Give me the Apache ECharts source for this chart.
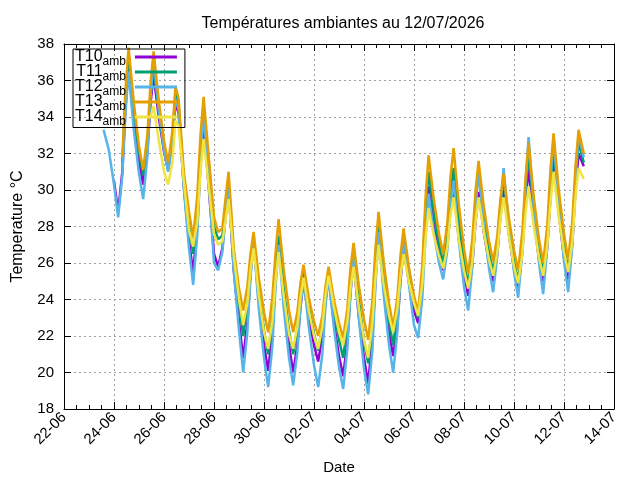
<!DOCTYPE html>
<html>
<head>
<meta charset="utf-8">
<title>Températures ambiantes</title>
<script src="https://cdn.jsdelivr.net/npm/echarts@6/dist/echarts.min.js"></script>
<style>
  html, body { margin: 0; padding: 0; background: #fff; }
  #chart { width: 640px; height: 480px; }
</style>
</head>
<body>
<div id="chart"></div>
<script>
// one row per day, samples at these hours (UTC)
const days = ['2026-06-23','2026-06-24','2026-06-25','2026-06-26','2026-06-27',
  '2026-06-28','2026-06-29','2026-06-30','2026-07-01','2026-07-02','2026-07-03',
  '2026-07-04','2026-07-05','2026-07-06','2026-07-07','2026-07-08','2026-07-09',
  '2026-07-10','2026-07-11','2026-07-12'];
const hours = [0, 4, 8, 11, 14, 19];

const seriesNames = ['T10', 'T11', 'T12', 'T13', 'T14'];
const seriesColors = ['#9400d3', '#009e73', '#56b4e9', '#e69f00', '#f0e442'];

const t10 = [
  null, null, null, null, null, null,
  30.5, 28.8, 31.0, 34.5, 36.8, 33.9,
  31.6, 30.3, 32.1, 34.7, 36.3, 34.0,
  32.1, 31.1, 32.6, 34.8, 34.2, 30.2,
  27.2, 25.5, 28.0, 31.5, 33.6, 30.1,
  26.5, 25.8, 26.8, 28.5, 30.0, 25.6,
  22.8, 20.8, 22.7, 25.4, 27.1, 24.0,
  21.5, 20.1, 22.2, 25.0, 27.3, 24.0,
  21.5, 20.0, 21.5, 23.6, 25.0, 23.0,
  21.5, 20.6, 22.0, 23.9, 25.2, 22.8,
  20.9, 19.8, 21.7, 24.4, 26.1, 23.1,
  20.8, 19.4, 21.9, 25.1, 27.6, 24.6,
  22.2, 20.9, 22.6, 25.0, 26.8, 25.0,
  23.4, 22.7, 24.9, 28.0, 30.2, 28.1,
  26.5, 25.6, 27.0, 29.0, 30.1, 27.4,
  25.4, 24.2, 25.9, 28.2, 29.9, 27.7,
  26.0, 25.0, 26.5, 28.6, 30.0, 27.6,
  25.7, 24.6, 26.6, 29.3, 31.2, 28.4,
  26.2, 25.0, 26.9, 29.6, 31.7, 28.7,
  26.3, 25.0, 27.1, 30.0, 32.0, 31.3
];
const t11 = [
  null, null, null, null, null, null,
  null, null, 31.5, 35.0, 37.2, 34.3,
  32.1, 30.8, 32.6, 35.1, 36.8, 34.3,
  32.3, 31.2, 32.8, 35.3, 34.7, 30.6,
  28.1, 26.5, 29.0, 32.4, 34.6, 31.3,
  28.0, 27.3, 27.5, 29.0, 30.5, 26.2,
  23.8, 22.0, 23.6, 25.9, 27.3, 24.5,
  22.3, 21.0, 23.0, 25.6, 27.5, 24.6,
  22.3, 21.0, 22.4, 24.2, 25.5, 23.6,
  22.1, 21.2, 22.5, 24.2, 25.5, 23.4,
  21.8, 20.8, 22.6, 25.1, 26.7, 24.0,
  21.7, 20.5, 22.7, 25.6, 28.0, 25.1,
  22.8, 21.5, 23.3, 25.8, 27.5, 25.5,
  23.9, 23.0, 25.4, 28.8, 31.0, 28.8,
  27.0, 26.0, 27.6, 29.8, 31.2, 28.3,
  26.1, 24.8, 26.7, 29.3, 31.1, 28.6,
  26.6, 25.5, 27.1, 29.2, 30.7, 28.1,
  26.1, 25.0, 27.1, 30.0, 31.9, 29.0,
  26.8, 25.5, 27.5, 30.3, 32.3, 29.3,
  27.0, 25.6, 27.7, 30.6, 32.6, 31.5
];
const t12 = [
  null, null, null, null, 33.3, 32.2,
  30.3, 28.5, 30.8, 34.2, 36.5, 33.3,
  30.9, 29.5, 31.8, 35.0, 37.2, 34.4,
  32.2, 31.0, 32.6, 35.0, 34.4, 30.1,
  26.8, 24.8, 27.6, 31.5, 34.3, 30.3,
  26.0, 25.6, 26.6, 28.5, 30.3, 25.5,
  22.3, 20.0, 22.2, 25.2, 27.2, 23.5,
  20.8, 19.2, 21.4, 24.6, 27.0, 23.5,
  20.8, 19.3, 21.1, 23.6, 25.2, 22.5,
  20.4, 19.2, 21.0, 23.6, 25.3, 22.5,
  20.3, 19.1, 21.3, 24.3, 26.5, 23.0,
  20.2, 18.8, 21.2, 24.8, 27.7, 24.2,
  21.5, 20.0, 22.2, 25.2, 27.3, 24.9,
  22.6, 21.9, 24.1, 27.4, 29.8, 27.7,
  26.0, 25.1, 26.7, 29.1, 30.5, 27.2,
  24.7, 23.4, 25.8, 28.9, 31.1, 28.1,
  25.7, 24.4, 26.4, 29.2, 31.2, 28.0,
  25.5, 24.1, 26.7, 30.3, 32.9, 29.0,
  26.0, 24.3, 26.9, 30.5, 32.9, 29.1,
  26.1, 24.4, 27.0, 30.6, 33.0, 31.8
];
const t13 = [
  null, null, null, null, null, null,
  null, null, 31.8, 35.5, 37.8, 34.8,
  32.4, 31.1, 33.0, 35.8, 37.6, 34.9,
  32.7, 31.5, 33.2, 35.7, 35.0, 31.0,
  28.8, 27.4, 29.7, 33.0, 35.1, 31.8,
  28.5, 27.7, 27.9, 29.5, 31.0, 26.8,
  24.6, 23.4, 24.7, 26.5, 27.7, 25.2,
  23.3, 22.2, 24.1, 26.5, 28.4, 25.6,
  23.4, 22.2, 23.3, 24.9, 25.9, 24.1,
  22.8, 22.0, 23.1, 24.7, 25.8, 24.0,
  22.7, 21.9, 23.5, 25.7, 27.1, 24.8,
  22.9, 21.8, 23.9, 26.8, 28.8, 26.0,
  23.8, 22.5, 24.1, 26.4, 27.9, 25.8,
  24.2, 23.3, 25.9, 29.5, 31.9, 29.5,
  27.6, 26.5, 28.2, 30.7, 32.3, 29.2,
  26.8, 25.4, 27.3, 29.9, 31.6, 29.1,
  27.2, 26.1, 27.5, 29.5, 30.9, 28.5,
  26.7, 25.6, 27.7, 30.6, 32.6, 29.6,
  27.3, 26.0, 28.1, 31.1, 33.1, 30.0,
  27.6, 26.2, 28.3, 31.3, 33.3, 32.0
];
const t14 = [
  null, null, null, null, null, null,
  null, null, null, null, null, null,
  null, null, null, 34.0, 34.6, 32.7,
  31.0, 30.3, 31.5, 33.8, 33.5, 30.5,
  27.8, 26.9, 28.3, 31.0, 32.8, 30.2,
  27.6, 27.0, 27.2, 28.3, 29.5, 26.4,
  24.0, 22.6, 23.8, 25.6, 26.8, 24.3,
  22.2, 21.3, 22.8, 25.0, 26.6, 24.2,
  22.1, 21.3, 22.5, 24.1, 25.2, 23.4,
  22.0, 21.3, 22.5, 24.2, 25.3, 23.6,
  22.2, 21.5, 22.8, 24.6, 25.8, 23.6,
  21.8, 20.8, 22.7, 25.2, 27.0, 24.8,
  23.1, 22.2, 23.5, 25.3, 26.5, 25.0,
  23.8, 23.1, 24.9, 27.3, 29.0, 27.5,
  26.4, 25.7, 26.9, 28.6, 29.6, 27.3,
  25.6, 24.6, 26.1, 28.2, 29.6, 27.7,
  26.2, 25.3, 26.6, 28.4, 29.6, 27.5,
  25.8, 24.9, 26.5, 28.7, 30.2, 28.0,
  26.3, 25.3, 27.0, 29.3, 31.0, 28.5,
  26.6, 25.5, 27.2, 29.6, 31.2, 30.6
];
const seriesValues = [t10, t11, t12, t13, t14];

const DAY = 86400000;
const xMin = Date.UTC(2026, 5, 22);
const xMax = Date.UTC(2026, 6, 14);

const times = [];
days.forEach(d => {
  const p = d.split('-');
  hours.forEach(h => times.push(Date.UTC(+p[0], +p[1] - 1, +p[2], h)));
});

const font = 'Liberation Sans, Arial, sans-serif';
const pad2 = n => (n < 10 ? '0' : '') + n;
const dateLabel = v => {
  const d = new Date(v);
  return pad2(d.getUTCDate()) + '-' + pad2(d.getUTCMonth() + 1);
};

const chart = echarts.init(document.getElementById('chart'), null, { renderer: 'canvas' });

const xCommon = {
  type: 'value', min: xMin, max: xMax, interval: 2 * DAY,
  axisLine: { lineStyle: { color: '#000', width: 1 } },
  axisTick: { inside: true, length: 7, lineStyle: { color: '#000' } },
  minorTick: { show: true, splitNumber: 4, length: 4, lineStyle: { color: '#000' } }
};
const yCommon = {
  type: 'value', min: 18, max: 38, interval: 2,
  axisLine: { show: true, lineStyle: { color: '#000', width: 1 } },
  axisTick: { show: true, inside: true, length: 7, lineStyle: { color: '#000' } }
};

chart.setOption({
  animation: false,
  backgroundColor: '#fff',
  title: {
    text: 'Températures ambiantes au 12/07/2026',
    left: 338, top: 11, textAlign: 'center',
    textStyle: { fontFamily: font, fontSize: 16, fontWeight: 'normal', color: '#000' }
  },
  grid: { left: 64, right: 26, top: 44, bottom: 70, containLabel: false },
  legend: {
    data: seriesNames,
    orient: 'vertical',
    left: 73, top: 49,
    align: 'right',
    icon: 'rect',
    itemWidth: 42, itemHeight: 3,
    itemGap: -3.5,
    padding: [0, 8, 0, 2],
    borderColor: '#000', borderWidth: 1,
    inactiveColor: '#ccc',
    formatter: name => '{a|' + name + '}{b|amb}',
    textStyle: {
      fontFamily: font, color: '#000',
      rich: {
        a: { fontFamily: font, fontSize: 16, color: '#000' },
        b: { fontFamily: font, fontSize: 12, color: '#000', padding: [9, 4, 0, 0] }
      }
    }
  },
  xAxis: [
    Object.assign({}, xCommon, {
      position: 'bottom',
      name: 'Date', nameLocation: 'middle', nameGap: 51,
      nameTextStyle: { fontFamily: font, fontSize: 15, color: '#000' },
      axisLabel: {
        rotate: 45, margin: 6, fontFamily: font, fontSize: 15, color: '#000',
        formatter: dateLabel
      },
      splitLine: { show: true, lineStyle: { color: '#a0a0a0', type: [2, 3], width: 1 } }
    }),
    Object.assign({}, xCommon, {
      position: 'top',
      axisLabel: { show: false },
      splitLine: { show: false }
    })
  ],
  yAxis: [
    Object.assign({}, yCommon, {
      position: 'left',
      name: 'Temperature °C', nameLocation: 'middle', nameGap: 38,
      nameTextStyle: { fontFamily: font, fontSize: 16, color: '#000' },
      axisLabel: { margin: 10, fontFamily: font, fontSize: 15, color: '#000' },
      splitLine: { show: true, lineStyle: { color: '#a0a0a0', type: [2, 3], width: 1 } }
    }),
    Object.assign({}, yCommon, {
      position: 'right',
      axisLabel: { show: false },
      splitLine: { show: false }
    })
  ],
  series: seriesNames.map((name, k) => ({
    name: name,
    type: 'line',
    xAxisIndex: 0, yAxisIndex: 0,
    showSymbol: false,
    symbol: 'none',
    connectNulls: false,
    color: seriesColors[k],
    lineStyle: { color: seriesColors[k], width: 2.5 },
    emphasis: { disabled: true },
    data: times.map((t, i) => [t, seriesValues[k][i]])
  }))
});
</script>
</body>
</html>
